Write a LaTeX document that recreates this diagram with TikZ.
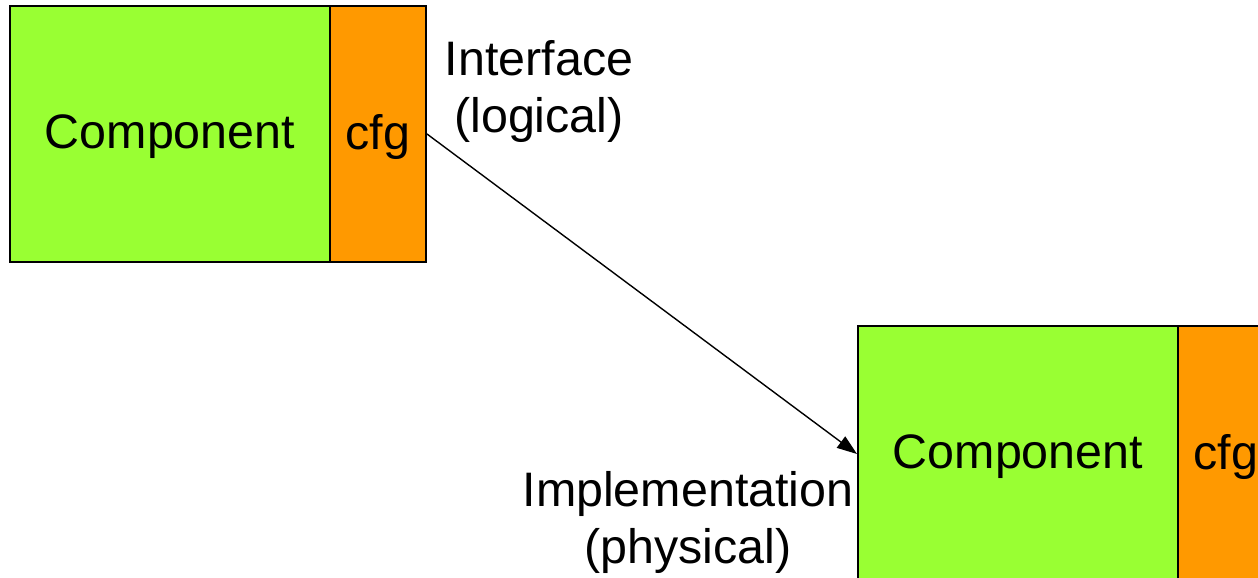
\documentclass[tikz,border=0pt]{standalone}
\usepackage{fontspec}
\setmainfont{Liberation Sans}
\usetikzlibrary{arrows.meta}
\definecolor{compgreen}{HTML}{99FF33}
\definecolor{cfgorange}{HTML}{FF9900}
\tikzset{
  compbox/.style={rectangle, draw=black, line width=1pt, fill=compgreen, minimum width=160pt, minimum height=128pt, inner sep=0pt, text depth=2pt},
  cfgbox/.style={rectangle, draw=black, line width=1pt, fill=cfgorange, minimum width=48pt, minimum height=128pt, inner sep=0pt, text depth=2pt},
  caption/.style={draw=none, align=center}
}
\begin{document}
\begin{tikzpicture}[x=0.5pt, y=-0.5pt, font=\fontsize{24.2}{28.5}\selectfont]
\useasboundingbox (0,0) rectangle (1258,578);
\begin{scope}
\clip (0,0) rectangle (1258,578);
\node[compbox] (logcomp) at (170, 134) {Component};
\node[cfgbox] (logcfg) at (378, 134) {cfg};
\node[compbox] (physcomp) at (1018, 454) {Component};
\node[cfgbox] (physcfg) at (1226, 454) {cfg};
\end{scope}
\node[caption] (iface) at (539, 92) {Interface\\(logical)};
\node[caption] (impl) at (688, 522) {Implementation\\(physical)};
\draw[-{Triangle[length=10pt, width=7pt]}, line width=0.7pt] (logcfg.east) -- (physcomp.west);
\end{tikzpicture}
\end{document}
